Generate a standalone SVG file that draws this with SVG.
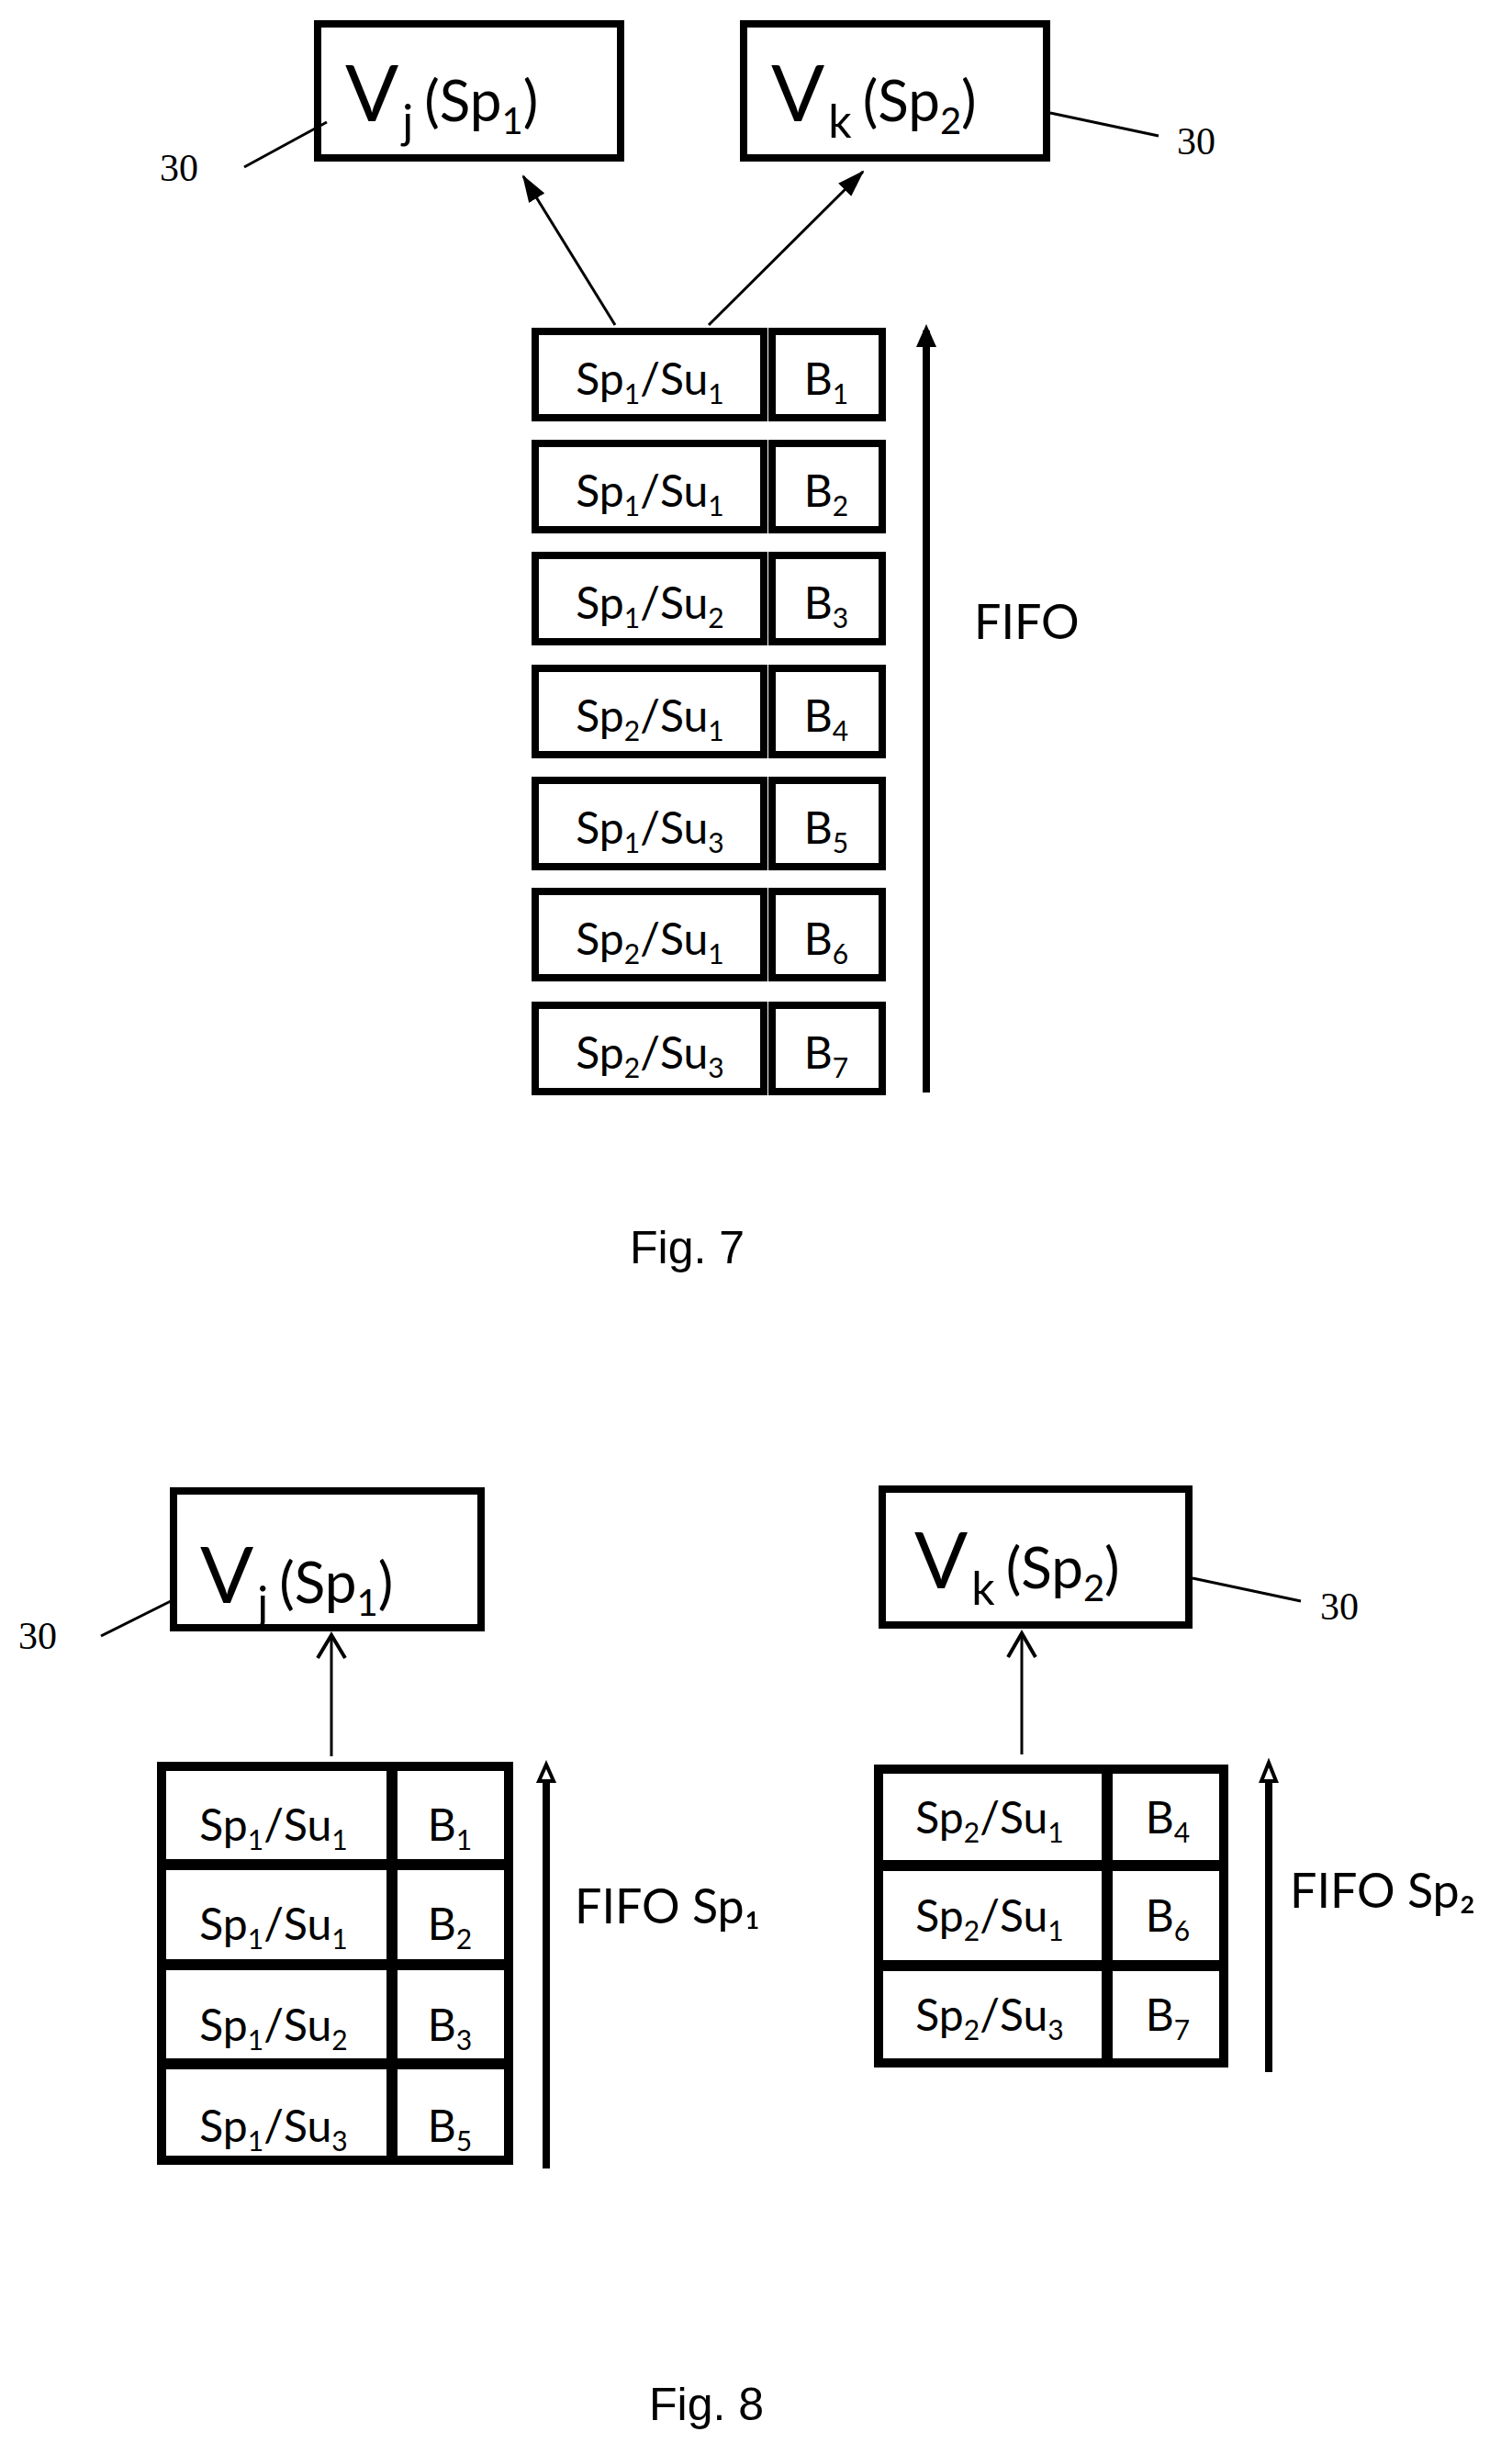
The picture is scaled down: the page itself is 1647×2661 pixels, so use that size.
<svg xmlns="http://www.w3.org/2000/svg" width="1647" height="2661" viewBox="0 0 1647 2661">
<style>
.box{fill:#fff;stroke:#000;stroke-width:8}
.tb{fill:none;stroke:#000;stroke-width:10}
.ln{stroke:#000;stroke-width:3;fill:none}
.oa{stroke:#000;stroke-width:4;fill:none}
.t{font-family:Lato,"Open Sans",sans-serif;fill:#000}
.big{font-size:86px}
.mid{font-size:62px}
.cell{font-size:48px}
.ref{font-family:"Liberation Serif",serif;font-size:42px;fill:#000}
.cap{font-family:"Liberation Sans",Arial,sans-serif;font-size:50px;fill:#000}
</style>
<defs>
<marker id="ahb" markerWidth="30" markerHeight="24" refX="28" refY="12" orient="auto" markerUnits="userSpaceOnUse"><path d="M0,2 L30,12 L0,22 z" fill="#000"/></marker>
</defs>
<rect width="1647" height="2661" fill="#fff"/>

<g id="vj7">
<rect class="box" x="346" y="26" width="330" height="146"/>
<text class="t big" x="376" y="132">V<tspan font-size="50" dy="18" dx="4">j</tspan><tspan class="mid" dy="-18" dx="12">(Sp</tspan><tspan font-size="40" dy="14">1</tspan><tspan class="mid" dy="-14">)</tspan></text>
</g>
<g id="vk7">
<rect class="box" x="810" y="26" width="330" height="146"/>
<text class="t big" x="840" y="132">V<tspan font-size="50" dy="18" dx="4">k</tspan><tspan class="mid" dy="-18" dx="12">(Sp</tspan><tspan font-size="40" dy="14">2</tspan><tspan class="mid" dy="-14">)</tspan></text>
</g>

<g id="connectors">
<line class="ln" x1="670" y1="354" x2="570" y2="192" marker-end="url(#ahb)"/>
<line class="ln" x1="772" y1="354" x2="940" y2="187" marker-end="url(#ahb)"/>
<line x1="1009" y1="1190" x2="1009" y2="360" stroke="#000" stroke-width="8"/>
<path d="M998,378 L1009,353 L1020,378 z" fill="#000"/>
<line class="ln" x1="266" y1="182" x2="356" y2="133"/>
<line class="ln" x1="1144" y1="123" x2="1262" y2="148"/>
<line class="ln" x1="361" y1="1913" x2="361" y2="1781"/>
<path class="oa" d="M346,1806 L361,1781 L376,1806"/>
<line class="ln" x1="1113" y1="1911" x2="1113" y2="1779"/>
<path class="oa" d="M1098,1805 L1113,1779 L1128,1805"/>
<line x1="595" y1="2362" x2="595" y2="1935" stroke="#000" stroke-width="8"/>
<path d="M587,1940 L595,1922 L603,1940 z" fill="#fff" stroke="#000" stroke-width="4"/>
<line x1="1382" y1="2257" x2="1382" y2="1935" stroke="#000" stroke-width="8"/>
<path d="M1374,1940 L1382,1920 L1390,1940 z" fill="#fff" stroke="#000" stroke-width="4"/>
<line class="ln" x1="110" y1="1782" x2="202" y2="1736"/>
<line class="ln" x1="1299" y1="1719" x2="1417" y2="1744"/>
</g>
<text class="ref" x="174" y="197">30</text>
<text class="ref" x="1282" y="168">30</text>

<g id="fifo7">
<g id="r1"><rect class="box" x="583" y="361" width="249" height="94"/><rect class="box" x="841" y="361" width="120" height="94"/>
<text class="t cell" x="708" y="430" text-anchor="middle">Sp<tspan font-size="30" dy="10">1</tspan><tspan dy="-10">/Su</tspan><tspan font-size="30" dy="10">1</tspan></text>
<text class="t cell" x="900" y="430" text-anchor="middle">B<tspan font-size="30" dy="10">1</tspan></text></g>
<g id="r2"><rect class="box" x="583" y="483" width="249" height="94"/><rect class="box" x="841" y="483" width="120" height="94"/>
<text class="t cell" x="708" y="552" text-anchor="middle">Sp<tspan font-size="30" dy="10">1</tspan><tspan dy="-10">/Su</tspan><tspan font-size="30" dy="10">1</tspan></text>
<text class="t cell" x="900" y="552" text-anchor="middle">B<tspan font-size="30" dy="10">2</tspan></text></g>
<g id="r3"><rect class="box" x="583" y="605" width="249" height="94"/><rect class="box" x="841" y="605" width="120" height="94"/>
<text class="t cell" x="708" y="674" text-anchor="middle">Sp<tspan font-size="30" dy="10">1</tspan><tspan dy="-10">/Su</tspan><tspan font-size="30" dy="10">2</tspan></text>
<text class="t cell" x="900" y="674" text-anchor="middle">B<tspan font-size="30" dy="10">3</tspan></text></g>
<g id="r4"><rect class="box" x="583" y="728" width="249" height="94"/><rect class="box" x="841" y="728" width="120" height="94"/>
<text class="t cell" x="708" y="797" text-anchor="middle">Sp<tspan font-size="30" dy="10">2</tspan><tspan dy="-10">/Su</tspan><tspan font-size="30" dy="10">1</tspan></text>
<text class="t cell" x="900" y="797" text-anchor="middle">B<tspan font-size="30" dy="10">4</tspan></text></g>
<g id="r5"><rect class="box" x="583" y="850" width="249" height="94"/><rect class="box" x="841" y="850" width="120" height="94"/>
<text class="t cell" x="708" y="919" text-anchor="middle">Sp<tspan font-size="30" dy="10">1</tspan><tspan dy="-10">/Su</tspan><tspan font-size="30" dy="10">3</tspan></text>
<text class="t cell" x="900" y="919" text-anchor="middle">B<tspan font-size="30" dy="10">5</tspan></text></g>
<g id="r6"><rect class="box" x="583" y="971" width="249" height="94"/><rect class="box" x="841" y="971" width="120" height="94"/>
<text class="t cell" x="708" y="1040" text-anchor="middle">Sp<tspan font-size="30" dy="10">2</tspan><tspan dy="-10">/Su</tspan><tspan font-size="30" dy="10">1</tspan></text>
<text class="t cell" x="900" y="1040" text-anchor="middle">B<tspan font-size="30" dy="10">6</tspan></text></g>
<g id="r7"><rect class="box" x="583" y="1095" width="249" height="94"/><rect class="box" x="841" y="1095" width="120" height="94"/>
<text class="t cell" x="708" y="1164" text-anchor="middle">Sp<tspan font-size="30" dy="10">2</tspan><tspan dy="-10">/Su</tspan><tspan font-size="30" dy="10">3</tspan></text>
<text class="t cell" x="900" y="1164" text-anchor="middle">B<tspan font-size="30" dy="10">7</tspan></text></g>
</g>
<text class="t" font-size="52" x="1061" y="696">FIFO</text>
<text class="cap" x="686" y="1376">Fig. 7</text>

<g id="vj8">
<rect class="box" x="189" y="1624" width="335" height="149"/>
<text class="t big" x="218" y="1746">V<tspan font-size="50" dy="18" dx="4">j</tspan><tspan class="mid" dy="-18" dx="12">(Sp</tspan><tspan font-size="40" dy="14">1</tspan><tspan class="mid" dy="-14">)</tspan></text>
</g>
<text class="ref" x="20" y="1796">30</text>
<g id="vk8">
<rect class="box" x="961" y="1622" width="334" height="148"/>
<text class="t big" x="996" y="1730">V<tspan font-size="50" dy="18" dx="4">k</tspan><tspan class="mid" dy="-18" dx="12">(Sp</tspan><tspan font-size="40" dy="14">2</tspan><tspan class="mid" dy="-14">)</tspan></text>
</g>
<text class="ref" x="1438" y="1764">30</text>

<g id="fifo8a">
<rect class="tb" x="176" y="1924" width="378" height="429"/>
<line x1="427" y1="1924" x2="427" y2="2353" stroke="#000" stroke-width="12"/>
<line x1="176" y1="2031" x2="554" y2="2031" stroke="#000" stroke-width="12"/>
<line x1="176" y1="2140" x2="554" y2="2140" stroke="#000" stroke-width="12"/>
<line x1="176" y1="2248" x2="554" y2="2248" stroke="#000" stroke-width="12"/>
<text class="t cell" x="298" y="2005" text-anchor="middle">Sp<tspan font-size="30" dy="10">1</tspan><tspan dy="-10">/Su</tspan><tspan font-size="30" dy="10">1</tspan></text>
<text class="t cell" x="490" y="2005" text-anchor="middle">B<tspan font-size="30" dy="10">1</tspan></text>
<text class="t cell" x="298" y="2113" text-anchor="middle">Sp<tspan font-size="30" dy="10">1</tspan><tspan dy="-10">/Su</tspan><tspan font-size="30" dy="10">1</tspan></text>
<text class="t cell" x="490" y="2113" text-anchor="middle">B<tspan font-size="30" dy="10">2</tspan></text>
<text class="t cell" x="298" y="2223" text-anchor="middle">Sp<tspan font-size="30" dy="10">1</tspan><tspan dy="-10">/Su</tspan><tspan font-size="30" dy="10">2</tspan></text>
<text class="t cell" x="490" y="2223" text-anchor="middle">B<tspan font-size="30" dy="10">3</tspan></text>
<text class="t cell" x="298" y="2333" text-anchor="middle">Sp<tspan font-size="30" dy="10">1</tspan><tspan dy="-10">/Su</tspan><tspan font-size="30" dy="10">3</tspan></text>
<text class="t cell" x="490" y="2333" text-anchor="middle">B<tspan font-size="30" dy="10">5</tspan></text>
</g>
<text class="t" font-size="52" x="626" y="2095">FIFO Sp₁</text>

<g id="fifo8b">
<rect class="tb" x="957" y="1927" width="376" height="320"/>
<line x1="1206" y1="1927" x2="1206" y2="2247" stroke="#000" stroke-width="12"/>
<line x1="957" y1="2032" x2="1333" y2="2032" stroke="#000" stroke-width="12"/>
<line x1="957" y1="2141" x2="1333" y2="2141" stroke="#000" stroke-width="12"/>
<text class="t cell" x="1078" y="1997" text-anchor="middle">Sp<tspan font-size="30" dy="10">2</tspan><tspan dy="-10">/Su</tspan><tspan font-size="30" dy="10">1</tspan></text>
<text class="t cell" x="1272" y="1997" text-anchor="middle">B<tspan font-size="30" dy="10">4</tspan></text>
<text class="t cell" x="1078" y="2104" text-anchor="middle">Sp<tspan font-size="30" dy="10">2</tspan><tspan dy="-10">/Su</tspan><tspan font-size="30" dy="10">1</tspan></text>
<text class="t cell" x="1272" y="2104" text-anchor="middle">B<tspan font-size="30" dy="10">6</tspan></text>
<text class="t cell" x="1078" y="2212" text-anchor="middle">Sp<tspan font-size="30" dy="10">2</tspan><tspan dy="-10">/Su</tspan><tspan font-size="30" dy="10">3</tspan></text>
<text class="t cell" x="1272" y="2212" text-anchor="middle">B<tspan font-size="30" dy="10">7</tspan></text>
</g>
<text class="t" font-size="52" x="1405" y="2078">FIFO Sp₂</text>
<text class="cap" x="707" y="2636">Fig. 8</text>
</svg>
